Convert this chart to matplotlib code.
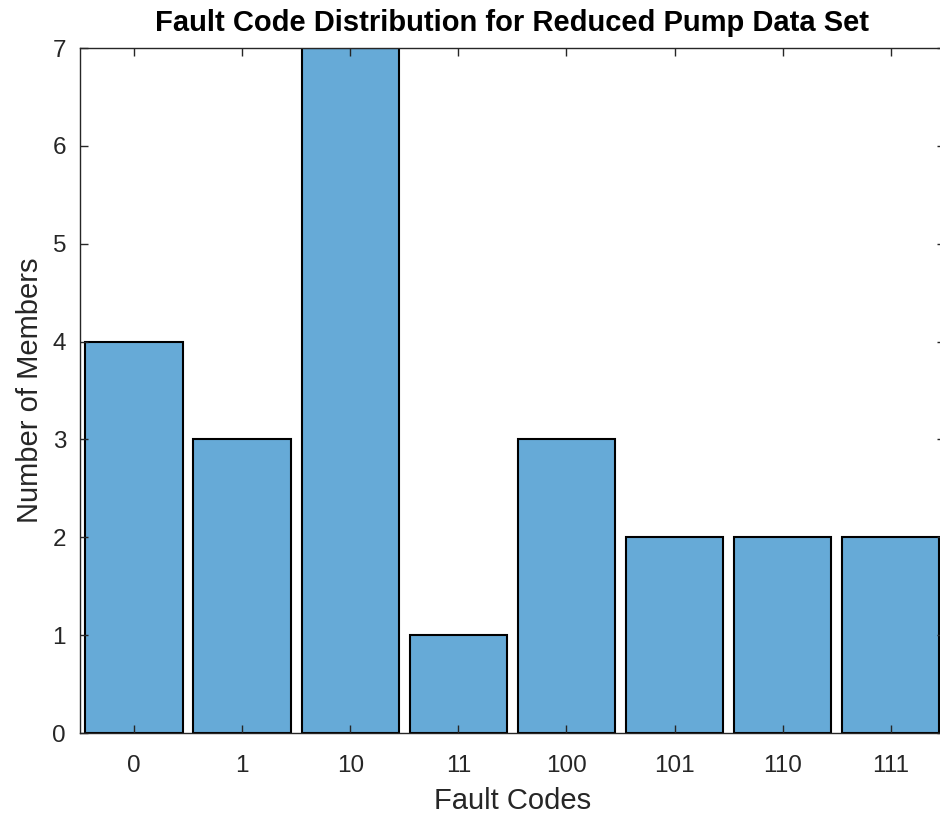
import numpy as np
import matplotlib.pyplot as plt

codes = ['0', '1', '10', '11', '100', '101', '110', '111']
counts = [4, 3, 7, 1, 3, 2, 2, 2]

plt.rcParams['font.family'] = ['Liberation Sans', 'DejaVu Sans']

fig = plt.figure(figsize=(9.4, 8.17), dpi=100)
ax = fig.add_axes([0.0851, 0.1028, 0.920, 0.8384])

x = np.arange(len(codes))
ax.bar(x, counts, width=0.9, color='#66aad7', edgecolor='black', linewidth=1.5)

ax.set_xlim(-0.5, len(codes) - 0.5)
ax.set_ylim(0, 7)
ax.set_xticks(x)
ax.set_xticklabels(codes)
ax.set_yticks(range(0, 8))

grey = '#262626'
for s in ax.spines.values():
    s.set_color(grey)
    s.set_linewidth(1.0)
ax.tick_params(direction='in', length=6, width=1.0, color=grey, labelcolor=grey,
               labelsize=17.5, top=True, right=True)
ax.tick_params(axis='x', pad=16)
ax.tick_params(axis='y', pad=10)

ax.set_xlabel('Fault Codes', fontsize=21, color=grey, labelpad=7)
ax.set_ylabel('Number of Members', fontsize=21, color=grey, labelpad=6)
ax.set_title('Fault Code Distribution for Reduced Pump Data Set', fontsize=21,
             fontweight='bold', color='black', pad=12)

fig.savefig('out.png', dpi=100)
